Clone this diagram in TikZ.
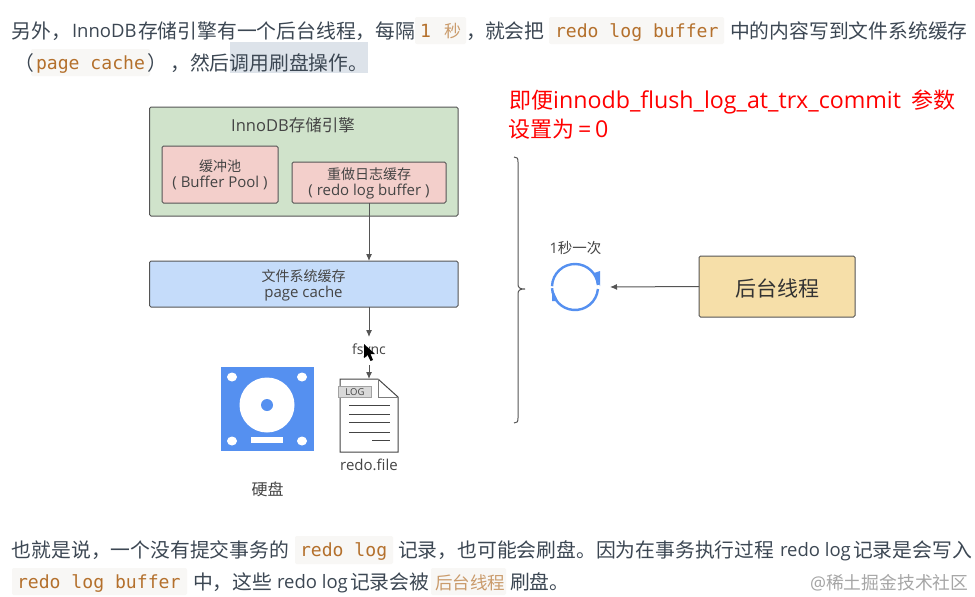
\documentclass[tikz,border=0pt]{standalone}
\usepackage{fontspec}
\setmainfont{Noto Sans CJK SC}
\newfontfamily\latinf{Open Sans}
\newfontfamily\monof{DejaVu Sans Mono}
\usetikzlibrary{arrows.meta}
\definecolor{bodyc}{HTML}{3C4753}
\definecolor{codec}{HTML}{B4702C}
\definecolor{codebg}{HTML}{F8F7F5}
\definecolor{hilite}{HTML}{DDE3EA}
\definecolor{dark}{HTML}{444444}
\definecolor{linec}{HTML}{555555}
\definecolor{greenf}{HTML}{D0E3CB}
\definecolor{redf}{HTML}{F3CFCB}
\definecolor{bluef}{HTML}{C5DCFA}
\definecolor{yellf}{HTML}{F6DFA9}
\definecolor{iconb}{HTML}{5590F0}
\tikzset{
  txt/.style={anchor=base west,inner sep=0pt,outer sep=0pt,text=bodyc,font=\fontsize{19.8}{24}\selectfont},
  ltxt/.style={txt,font=\fontsize{18.5}{24}\selectfont\latinf},
  code/.style={anchor=base west,inner sep=0pt,outer sep=0pt,text=codec,font=\fontsize{18.1}{24}\selectfont\monof},
  fade/.style={txt,text=codec!70!white},
  lbl/.style={inner sep=0pt,outer sep=0pt,text=dark,align=center},
  box/.style={draw=linec,line width=1pt,rounded corners=1.5pt,inner sep=0pt,outer sep=0pt},
  flow/.style={draw=linec,line width=1pt,-{Latex[length=7pt,width=6pt]}},
  redt/.style={anchor=base west,inner sep=0pt,text=red,font=\fontsize{22}{26}\selectfont},
}
\newcommand{\boxat}[7]{\node[box,fill=#2,minimum width=#5pt-#3pt,minimum height=#6pt-#4pt,anchor=north west] (#1) at (#3,#4) {#7};}
\newcommand{\redlat}[1]{{\fontsize{23.2}{26}\selectfont\latinf #1}}
\newcommand{\smlat}[1]{{\fontsize{15}{16.5}\selectfont\latinf #1}}
\begin{document}
\begin{tikzpicture}[x=1pt,y=-1pt]
\useasboundingbox (0,0) rectangle (975,597);
\fill[white] (0,0) rectangle (975,597);
% code backgrounds and highlight
\fill[codebg,rounded corners=2pt] (415,17) rectangle (466,44);
\fill[codebg,rounded corners=2pt] (549,17) rectangle (724,44);
\fill[codebg,rounded corners=2pt] (31,49) rectangle (150,76);
\fill[hilite] (230,42) rectangle (368,73);
\fill[codebg,rounded corners=2pt] (295,536) rectangle (393,564);
\fill[codebg,rounded corners=2pt] (12,568) rectangle (187,595);
\fill[codebg,rounded corners=2pt] (431,568) rectangle (506,595);
% top paragraph
\node[txt]  (t1) at (12,38) {另外，};
\node[ltxt] (t2) at (72,37) {InnoDB};
\node[txt]  (t3) at (138,38) {存储引擎有一个后台线程，每隔};
\node[code] (t4) at (420,37) {1};
\node[fade,font=\fontsize{17}{20}\selectfont] (t5) at (444,37) {秒};
\node[txt]  (t6) at (466,38) {，};
\node[txt]  (t7) at (485,38) {就会把};
\node[code] (t8) at (555,37) {redo log buffer};
\node[txt]  (t9) at (730,38) {中的内容写到文件系统缓存};
\node[txt]  (t10) at (14,70) {（};
\node[code] (t11) at (36,69) {page cache};
\node[txt]  (t12) at (147,70) {）};
\node[txt]  (t13) at (170,70) {，};
\node[txt]  (t14) at (190,70) {然后调用刷盘操作。};
% red note
\node[redt] (n1) at (509,108) {即便\redlat{innodb\_flush\_log\_at\_trx\_commit}};
\node[redt] (n1b) at (911,108) {参数};
\node[redt] (n2) at (508,137) {设置为\redlat{\,=\,0}};
% engine
\boxat{engine}{greenf}{149.5}{107}{458}{216}{}
\node[lbl,font=\fontsize{16.5}{20}\selectfont] (enginet) at (293,125) {{\latinf InnoDB}存储引擎};
\boxat{pool}{redf}{162}{146}{278}{203}{}
\node[lbl,font=\fontsize{14}{16.5}\selectfont] (poolt) at (220,175) {缓冲池\\[0pt]\smlat{( Buffer Pool )}};
\boxat{redo}{redf}{292}{162}{446}{203}{}
\node[lbl,font=\fontsize{14}{16.5}\selectfont] (redot) at (369,183.5) {重做日志缓存\\[0pt]\smlat{( redo log buffer )}};
\boxat{cache}{bluef}{149.5}{261}{458}{307}{}
\node[lbl,font=\fontsize{14}{16}\selectfont] (cachet) at (303.5,285) {文件系统缓存\\[0pt]\smlat{page cache}};
\coordinate (c1) at (redo.south |- cache.south);
\node[lbl,font=\fontsize{14}{16}\selectfont\latinf,minimum height=28pt] (fsync) at (369,351) {fsync};
\node[inner sep=0pt,outer sep=0pt,minimum width=58pt,minimum height=73pt] (file) at (369,415.5) {};
\draw[flow] (redo.south) -- (redo.south |- cache.north);
\draw[flow] (c1) -- (fsync.north);
\draw[flow] (fsync.south) -- (file.north);
% disk icon
\fill[iconb] (221,367) rectangle (314,451);
\foreach \x/\y in {232/377,302/377,232/441,302/441} \fill[white] (\x,\y) ellipse[x radius=5pt,y radius=4.5pt];
\fill[white] (267,405) circle[radius=27.5pt];
\fill[iconb] (267,405) circle[radius=6pt];
\fill[white] (251,437) rectangle (283,443);
\node[lbl,font=\fontsize{16}{18}\selectfont] (disk) at (267.5,489) {硬盘};
% file icon
\draw[line width=1pt,draw=dark,fill=white] (340,379) -- (378,379) -- (398,397) -- (398,452) -- (340,452) -- cycle;
\draw[line width=1pt,draw=dark!70] (378,379) -- (378,397) -- (398,397);
\draw[draw=dark!50,fill=black!15,line width=.6pt] (338,386) rectangle (371,397);
\node[lbl,font=\fontsize{9.5}{10}\selectfont\latinf] (logt) at (355,392) {LOG};
\foreach \y in {405,414,422,432} \draw[dark,line width=.9pt] (349,\y) -- (390,\y);
\draw[dark,line width=.9pt] (372,440) -- (390,440);
\node[lbl,font=\fontsize{15}{16}\selectfont\latinf] (filet) at (369,465) {redo.file};
% mouse cursor
\fill[black] (364,344) -- (364,358) -- (367.5,355) -- (370.5,361) -- (373,360) -- (370.5,354) -- (375,354) -- cycle;
% brace
\draw[draw=linec,line width=1pt] (514,157) .. controls (517,157) and (518,158) .. (518,162) -- (518,284) .. controls (518,288) and (520,289) .. (525,289) .. controls (520,289) and (518,290) .. (518,294) -- (518,418) .. controls (518,422) and (517,423) .. (514,423);
% loop
\node[inner sep=0pt,outer sep=0pt,minimum size=70pt,circle] (loop) at (575,287) {};
\node[lbl,font=\fontsize{14.5}{16}\selectfont] (loopt) at (575.5,248) {{\latinf 1}秒一次};
\draw[iconb,line width=2.4pt] ([shift={(178:23pt)}]loop.center) arc[start angle=178,end angle=5,radius=23pt];
\draw[iconb,line width=2.4pt] ([shift={(-5:23pt)}]loop.center) arc[start angle=-5,end angle=-177,radius=23pt];
\fill[iconb] (594,273) -- (600,271) -- (600,286) -- cycle;
\fill[iconb] (552,288) -- (552,301) -- (558,301) -- cycle;
% background thread
\boxat{thread}{yellf}{699}{256}{855}{317}{}
\node[lbl,font=\fontsize{21}{24}\selectfont,text=black!80] (threadt) at (777,288.5) {后台线程};
\draw[flow] (thread.west) -- (loop.east);
% bottom paragraph
\node[txt]  (b1) at (12,557) {也就是说，一个没有提交事务的};
\node[code] (b2) at (300,556) {redo log};
\node[txt]  (b3) at (398,557) {记录，也可能会刷盘。因为在事务执行过程};
\node[ltxt] (b4) at (780,556) {redo log};
\node[txt]  (b5) at (853,557) {记录是会写入};
\node[code] (b6) at (17,588) {redo log buffer};
\node[txt]  (b7) at (193,589) {中，这些};
\node[ltxt] (b8) at (277,588) {redo log};
\node[txt]  (b9) at (350,589) {记录会被};
\node[fade,font=\fontsize{17.5}{20}\selectfont] (b10) at (435,589) {后台线程};
\node[txt]  (b11) at (510,589) {刷盘。};
\node[txt,text=black!35,font=\fontsize{17.8}{20}\selectfont] (wm) at (810,589) {{\latinf @}稀土掘金技术社区};
\end{tikzpicture}
\end{document}
